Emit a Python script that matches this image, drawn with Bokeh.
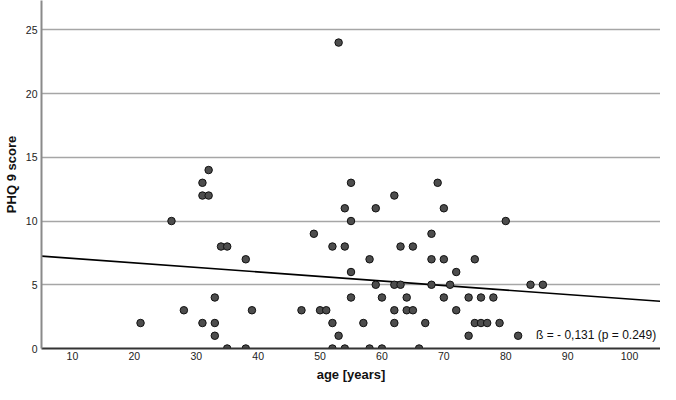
from bokeh.plotting import figure
from bokeh.models import FixedTicker, Label, Range1d
from bokeh.embed import file_html
from bokeh.resources import INLINE

# age [years] and PHQ 9 score
age = [21, 26, 28, 31, 31, 32, 32, 31, 33, 33, 33, 34, 35, 35, 38, 38, 39,
       47, 49, 50, 51, 52, 52, 52, 53, 53, 54, 54, 54, 55, 55, 55, 55, 57,
       58, 58, 59, 59, 60, 60, 62, 62, 62, 62, 63, 63, 64, 64, 65, 65, 66,
       67, 68, 68, 68, 69, 70, 70, 70, 71, 72, 72, 74, 74, 75, 75, 76, 76,
       77, 78, 79, 80, 82, 84, 86]
phq = [2, 10, 3, 13, 12, 12, 14, 2, 4, 2, 1, 8, 8, 0, 7, 0, 3,
       3, 9, 3, 3, 8, 2, 0, 24, 1, 11, 8, 0, 13, 10, 6, 4, 2,
       7, 0, 11, 5, 4, 0, 12, 5, 3, 2, 8, 5, 4, 3, 8, 3, 0,
       2, 9, 7, 5, 13, 11, 7, 4, 5, 6, 3, 4, 1, 7, 2, 4, 2,
       2, 4, 2, 10, 1, 5, 5]

# regression line end points
fit_x = [5, 105]
fit_y = [7.25, 3.7]

x_ticks = [10, 20, 30, 40, 50, 60, 70, 80, 90, 100]
y_ticks = [0, 5, 10, 15, 20, 25]
annotation = "ß = - 0,131 (p = 0.249)"

FONT = "Liberation Sans"

p = figure(width=660, height=384, output_backend="svg", toolbar_location=None,
           x_range=Range1d(5, 105), y_range=Range1d(0, 27.3))
p.min_border_left = 0
p.min_border_right = 0
p.min_border_top = 0
p.min_border_bottom = 0
p.outline_line_color = None
p.background_fill_color = "white"
p.border_fill_color = "white"

p.xgrid.visible = False
p.ygrid.ticker = FixedTicker(ticks=y_ticks)
p.ygrid.grid_line_color = "#a6a6a6"
p.ygrid.grid_line_width = 1.5

p.xaxis.ticker = FixedTicker(ticks=x_ticks)
p.yaxis.ticker = FixedTicker(ticks=y_ticks)
for ax in (p.xaxis, p.yaxis):
    ax.major_tick_in = 0
    ax.major_tick_out = 0
    ax.minor_tick_in = 0
    ax.minor_tick_out = 0
    ax.major_label_text_font = FONT
    ax.major_label_text_font_size = "10.5px"
    ax.major_label_text_color = "#222222"
    ax.axis_label_text_font = FONT
    ax.axis_label_text_font_size = "13px"
    ax.axis_label_text_font_style = "bold"
    ax.axis_label_text_color = "#111111"

p.xaxis.axis_label = "age [years]"
p.yaxis.axis_label = "PHQ 9 score"
p.xaxis.axis_line_color = "#333333"
p.xaxis.axis_line_width = 2
p.yaxis.axis_line_color = "#8a8a8a"
p.yaxis.axis_line_width = 2
p.xaxis.major_label_standoff = 3
p.xaxis.axis_label_standoff = 4
p.yaxis.major_label_standoff = 4
p.yaxis.axis_label_standoff = 4

p.line(fit_x, fit_y, line_color="black", line_width=1.6)
p.scatter(age, phq, size=7.5, fill_color="#4d4d4d", line_color="#111111",
          line_width=1)

p.add_layout(Label(x=104.3, y=1.05, text=annotation, text_align="right",
                   text_baseline="middle", text_font=FONT,
                   text_font_size="12px", text_color="#111111"))

open("out.html", "w").write(file_html(p, INLINE))
